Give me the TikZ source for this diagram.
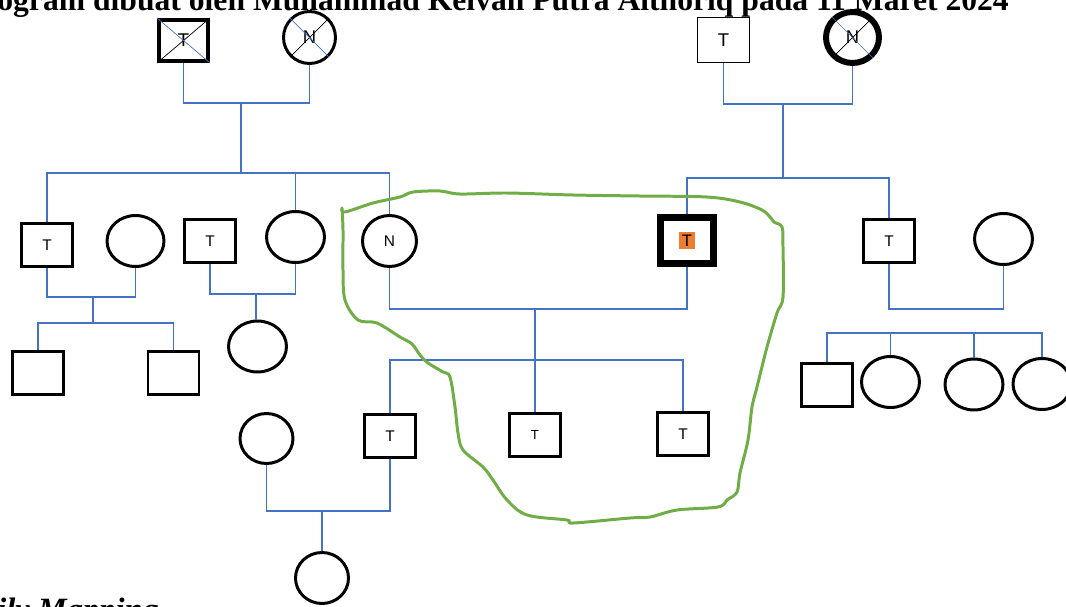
\documentclass[tikz,border=0pt]{standalone}
\usepackage{fontspec}
\setmainfont{Liberation Serif}
\setsansfont{Liberation Sans}
\usetikzlibrary{shapes.geometric}
\definecolor{kinblue}{RGB}{68,114,196}
\definecolor{lassogreen}{RGB}{112,173,71}
\definecolor{probandorange}{RGB}{237,125,49}

\begin{document}
\begin{tikzpicture}[
  x=0.02cm, y=-0.02cm,
  every node/.style={font=\sffamily\fontsize{8.8}{10}\selectfont, inner sep=0pt},
  male/.style={rectangle, draw, line width=1.7pt, minimum width=1.02cm, minimum height=0.86cm},
  female/.style={ellipse, draw, line width=1.7pt, minimum width=1.16cm, minimum height=1.02cm},
  kin/.style={draw=kinblue, line width=0.7pt},
  bigtext/.style={font=\sffamily\fontsize{10.5}{12}\selectfont}
]
\useasboundingbox (0,0) rectangle (1066,606);
\clip (0,0) rectangle (1066,606);

% Title and caption (cut by the page edge)
\node[font=\rmfamily\bfseries\fontsize{18}{21}\selectfont, anchor=base west] (title) at (-3,10.5)
  {ogram dibuat oleh Muhammad Kelvan Putra Althoriq pada 11 Maret 2024};
\node[font=\rmfamily\bfseries\itshape\fontsize{18.5}{21}\selectfont, anchor=base west] (caption) at (-3,620)
  {ily Mapping};

% Grandparents, left
\node[male, bigtext, line width=2pt, minimum width=0.99cm, minimum height=0.83cm] (gf1) at (183.5,40.5) {T};
\node[female, bigtext, minimum width=1.04cm, minimum height=1.04cm] (gm1) at (309.5,37.5) {N};
\draw (gf1.south west) -- (gf1.north east);
\draw[kinblue] (gf1.north west) -- (gf1.south east);
\draw (gm1.-135) -- (gm1.45);
\draw[kinblue] (gm1.135) -- (gm1.-45);

% Grandparents, right
\node[male, bigtext, line width=0.8pt, minimum width=1.03cm, minimum height=0.89cm] (gf2) at (723.5,40) {T};
\node[female, bigtext, line width=3.4pt, minimum width=1.06cm, minimum height=1.02cm] (gm2) at (852.5,37.5) {N};
\draw (gm2.-135) -- (gm2.45);
\draw[kinblue] (gm2.135) -- (gm2.-45);

% Second generation
\node[male] (a) at (47,245) {T};
\node[female, minimum width=1.14cm] (b) at (135.5,241) {};
\node[male] (c) at (210,241) {T};
\node[female] (d) at (295.5,237) {};
\node[female, minimum width=1.08cm] (e) at (389.5,241) {N};
\node[male, line width=3.97pt, minimum width=1.06cm, minimum height=0.92cm] (f) at (687,240.5)
  {\fontsize{9.5}{10}\selectfont\setlength\fboxsep{1.5pt}\colorbox{probandorange}{T}};
\node[male] (g) at (889,241) {T};
\node[female] (h) at (1003.5,239) {};

% Third generation
\node[male] (k1) at (38,373) {};
\node[male] (k2) at (173.5,373) {};
\node[female] (k3) at (257.5,346.5) {};
\node[male] (m1) at (390,436) {T};
\node[male, font=\sffamily\fontsize{7.5}{8}\selectfont] (m2) at (535,435) {T};
\node[male] (m3) at (683,434) {T};
\node[female, minimum width=1.06cm, minimum height=1cm] (w1) at (266.5,438.5) {};
\node[male] (r1) at (827,385) {};
\node[female] (r2) at (890.5,382) {};
\node[female] (r3) at (974,384.5) {};
\node[female] (r4) at (1042,384) {};

% Fourth generation
\node[female, minimum width=1.06cm] (k4) at (322,578) {};

% Left family lines
\coordinate (u1) at (241,103);
\coordinate (s1) at (241,173);
\draw[kin] (gf1.south) |- (u1) -| (gm1.south);
\draw[kin] (u1) -- (s1);
\draw[kin] (a.north) |- (s1) -| (e.north);
\draw[kin] (d.north) -- (d.north |- s1);

% Right family lines
\coordinate (u2) at (783,104);
\coordinate (s2) at (783,178);
\draw[kin] (gf2.south) |- (u2) -| (gm2.south);
\draw[kin] (u2) -- (s2);
\draw[kin] (f.north) |- (s2) -| (g.north);

% Couples of the second generation
\coordinate (u3) at (93,297);
\coordinate (s3) at (93,323);
\draw[kin] (a.south) |- (u3) -| (b.south);
\draw[kin] (u3) -- (s3);
\draw[kin] (k1.north) |- (s3) -| (k2.north);

\coordinate (u4) at (256,294);
\draw[kin] (c.south) |- (u4) -| (d.south);
\draw[kin] (u4) -- (u4 |- k3.north);

\coordinate (u5) at (535,309);
\coordinate (s5) at (535,360);
\draw[kin] (e.south) |- (u5) -| (f.south);
\draw[kin] (u5) -- (m2.north);
\draw[kin] (m1.north) |- (s5) -| (m3.north);

\coordinate (u7) at (946,309);
\coordinate (s7) at (932,333);
\draw[kin] (g.south) |- (u7) -| (h.south);
\draw[kin] (r1.north) |- (s7) -| (r4.north);
\draw[kin] (r2.north) -- (r2.north |- s7);
\draw[kin] (r3.north) -- (r3.north |- s7);

% Third generation couple
\coordinate (u6) at (322,511);
\draw[kin] (m1.south) |- (u6) -| (w1.south);
\draw[kin] (u6) -- (k4.north);

% Hand-drawn lasso
\draw[lassogreen, line width=1.7pt, line cap=round, line join=round]
  plot[smooth, tension=0.55] coordinates {
  (342,208) (345,212) (373,203) (400,197) (413,192) (440,191) (460,194) (507,193)
  (573,195) (640,196) (707,197) (740,202) (762,210) (770,217) (774,222) (782,227)
  (783,247) (783,297) (777,313) (767,347) (757,387) (752,407) (748,440) (740,473)
  (737,492) (727,500) (718,507) (677,510) (650,517) (630,518) (573,523) (567,520)
  (527,515) (507,500) (493,480) (483,467) (463,450) (458,433) (455,407) (450,377)
  (443,372) (428,363) (420,355) (412,344) (400,337) (377,323) (358,320) (345,300)
  (343,270) (343,230) (342,208)};

\end{tikzpicture}
\end{document}
